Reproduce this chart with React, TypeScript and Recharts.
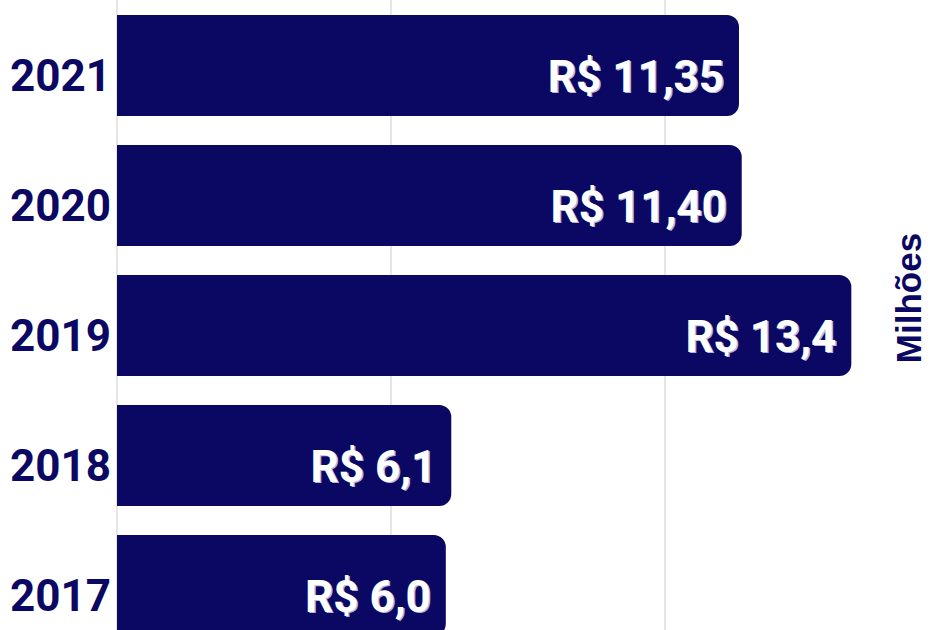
import { BarChart, Bar, XAxis, YAxis, CartesianGrid, LabelList } from "recharts";

const NAVY = "#0a0862";
const GRID = "#dedede";

const years = ["2021", "2020", "2019", "2018", "2017"];
const valores = [11.35, 11.4, 13.4, 6.1, 6.0];
const rotulos = ["R$ 11,35", "R$ 11,40", "R$ 13,4", "R$ 6,1", "R$ 6,0"];
const xTicks = [0, 5, 10, 15];

const data = years.map((ano, i) => ({ ano, valor: valores[i], rotulo: rotulos[i] }));

function YearTick(props: any) {
  const { x, y, payload } = props;
  return (
    <text
      x={x + 2}
      y={y + 26}
      textAnchor="end"
      fill={NAVY}
      fontSize={44}
      fontWeight={700}
      fontFamily="Roboto, sans-serif"
    >
      {payload.value}
    </text>
  );
}

function ValueLabel(props: any) {
  const { x, y, width, height, value } = props;
  const tx = x + width - 15;
  const ty = y + height / 2 + 26;
  const common = {
    textAnchor: "end" as const,
    fontSize: 44,
    fontWeight: 700,
    fontFamily: "Roboto, sans-serif",
  };
  return (
    <g>
      <text x={tx + 1.5} y={ty + 1.5} fill="#b4b4dc" {...common}>
        {value}
      </text>
      <text x={tx} y={ty} fill="#ffffff" {...common}>
        {value}
      </text>
    </g>
  );
}

export default function App() {
  return (
    <div style={{ position: "relative", width: 930, height: 630, overflow: "hidden" }}>
      <style>{`body{margin:0;overflow:hidden}`}</style>
      <BarChart
        width={940}
        height={650}
        data={data}
        layout="vertical"
        margin={{ top: 0, right: 1, left: 0, bottom: 0 }}
      >
        <CartesianGrid horizontal={false} stroke={GRID} strokeWidth={1.5} />
        <XAxis type="number" domain={[0, 15]} ticks={xTicks} hide />
        <YAxis
          type="category"
          dataKey="ano"
          width={117}
          axisLine={false}
          tickLine={false}
          tick={<YearTick />}
        />
        <Bar
          dataKey="valor"
          fill={NAVY}
          barSize={101}
          radius={[0, 12, 12, 0]}
          isAnimationActive={false}
        >
          <LabelList dataKey="rotulo" content={<ValueLabel />} />
        </Bar>
      </BarChart>
      <div
        style={{
          position: "absolute",
          left: 909,
          top: 298,
          transform: "translate(-50%, -50%) rotate(-90deg)",
          fontFamily: "'Liberation Sans', Arial, sans-serif",
          fontWeight: 700,
          fontSize: 35,
          lineHeight: "34px",
          color: NAVY,
          whiteSpace: "nowrap",
        }}
      >
        Milhões
      </div>
    </div>
  );
}
